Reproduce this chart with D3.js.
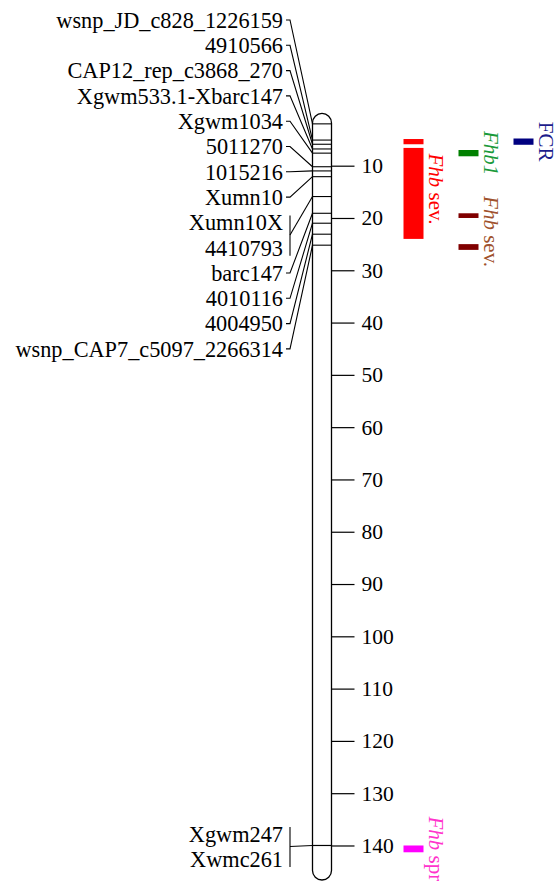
<!DOCTYPE html>
<html>
<head>
<meta charset="utf-8">
<script src="https://cdn.jsdelivr.net/npm/d3@7"></script>
<style>
  html, body { margin: 0; padding: 0; background: #fff; }
  text { font-family: "Liberation Serif", "Times New Roman", serif; }
</style>
</head>
<body>
<div id="chart"></div>
<script>
// markers on the linkage group (cM)
const markerNames = ['wsnp_JD_c828_1226159', '4910566', 'CAP12_rep_c3868_270', 'Xgwm533.1-Xbarc147',
  'Xgwm1034', '5011270', '1015216', 'Xumn10', 'Xumn10X', '4410793', 'barc147', '4010116',
  '4004950', 'wsnp_CAP7_c5097_2266314', 'Xgwm247', 'Xwmc261'];
const markerCM = [2.0, 5.1, 5.9, 6.8, 7.6, 10.2, 11.0, 12.1, 15.9, 15.9, 19.1, 21.0, 23.1, 25.2, 140.0, 140.0];

// axis ticks
const tickValues = [10, 20, 30, 40, 50, 60, 70, 80, 90, 100, 110, 120, 130, 140];
const chromLength = 146.6;

// QTL intervals
const qtlTrait = ['Fhb sev.', 'Fhb sev.', 'Fhb1', 'Fhb sev.', 'Fhb sev.', 'FCR', 'Fhb spr'];
const qtlLane = ['I', 'I', 'II', 'II', 'II', 'III', 'I'];
const qtlGroup = ['a', 'a', 'b', 'c', 'c', 'd', 'e'];
const qtlStart = [4.9, 6.6, 7.0, 19.1, 25.0, 4.8, 140.0];
const qtlEnd = [5.9, 24.0, 8.2, 20.0, 26.1, 6.0, 141.3];
const groupBarColor = { a: '#ff0000', b: '#008000', c: '#800000', d: '#000080', e: '#ff00ff' };
const groupTextColor = { a: '#ff0000', b: '#1a9a3a', c: '#a0522d', d: '#1c1c8c', e: '#ff33cc' };

const width = 556, height = 881;
const chromX = 312.5, chromW = 19;

const svg = d3.select('#chart').append('svg')
  .attr('width', width)
  .attr('height', height);

const y = d3.scaleLinear().domain([0, chromLength]).range([113.4, 880]);

// chromosome body
svg.append('rect')
  .attr('x', chromX).attr('y', y(0))
  .attr('width', chromW).attr('height', y(chromLength) - y(0))
  .attr('rx', chromW / 2).attr('ry', chromW / 2)
  .attr('fill', '#fff').attr('stroke', '#000').attr('stroke-width', 1.3);

const markers = markerNames.map((name, i) => ({ name: name, cM: markerCM[i], index: i }));

// marker bars inside chromosome
const positions = Array.from(new Set(markerCM));
svg.selectAll('.mline').data(positions).enter().append('line')
  .attr('class', 'mline')
  .attr('x1', chromX).attr('x2', chromX + chromW)
  .attr('y1', d => y(d)).attr('y2', d => y(d))
  .attr('stroke', '#000').attr('stroke-width', 1.1);

// label layout: top cluster stacked from the top, distal pair centred on its marker
const topCount = markers.filter(d => d.cM < 100).length;
markers.forEach(d => {
  if (d.cM < 100) {
    d.ly = 20 + d.index * 25.3;
  } else {
    const j = d.index - topCount;
    d.ly = y(d.cM) - 11.5 + j * 25;
  }
});

svg.selectAll('.mlabel').data(markers).enter().append('text')
  .attr('class', 'mlabel')
  .attr('x', 283)
  .attr('y', d => d.ly)
  .attr('dy', '0.35em')
  .attr('text-anchor', 'end')
  .style('font-size', '22.3px')
  .attr('fill', '#000')
  .text(d => d.name);

// connectors
const groups = d3.groups(markers, d => d.cM);
const conn = svg.append('g').attr('stroke', '#000').attr('stroke-width', 1.1).attr('fill', 'none');
groups.forEach(([cM, items]) => {
  if (items.length === 1) {
    const d = items[0];
    conn.append('path')
      .attr('d', `M286,${d.ly}H290L${chromX},${y(cM)}`);
  } else {
    const first = items[0].ly, last = items[items.length - 1].ly;
    const mid = (first + last) / 2;
    conn.append('line')
      .attr('x1', 290).attr('x2', 290)
      .attr('y1', first - 7).attr('y2', last + 8);
    conn.append('line')
      .attr('x1', 290).attr('y1', mid)
      .attr('x2', chromX).attr('y2', y(cM));
  }
});

// distal marker line runs across the chromosome
svg.selectAll('.cross').data(groups.filter(g => g[0] > 100)).enter().append('line')
  .attr('x1', chromX).attr('x2', chromX + chromW)
  .attr('y1', d => y(d[0])).attr('y2', d => y(d[0]))
  .attr('stroke', '#000').attr('stroke-width', 1.1);

// cM axis
const axis = svg.append('g')
  .attr('transform', `translate(${chromX + chromW},0)`)
  .call(d3.axisRight(y).tickValues(tickValues).tickSize(23).tickPadding(7));
axis.select('.domain').remove();
axis.selectAll('line').attr('stroke', '#000').attr('stroke-width', 1.2);
axis.selectAll('text')
  .style('font-family', '"Liberation Serif", "Times New Roman", serif')
  .style('font-size', '21.5px')
  .attr('fill', '#000');

// QTL bars
const qtls = qtlTrait.map((t, i) => ({
  trait: t, lane: qtlLane[i], group: qtlGroup[i], start: qtlStart[i], end: qtlEnd[i]
}));
const laneX = d3.scalePoint().domain(['I', 'II', 'III']).range([403.5, 513.5]);
const barW = 20;

svg.selectAll('.qtl').data(qtls).enter().append('rect')
  .attr('class', 'qtl')
  .attr('x', d => laneX(d.lane))
  .attr('y', d => y(d.start))
  .attr('width', barW)
  .attr('height', d => y(d.end) - y(d.start))
  .attr('fill', d => groupBarColor[d.group]);

// QTL labels, rotated, centred on each group
const labelGroups = d3.groups(qtls, d => d.group).map(([g, items]) => ({
  group: g,
  trait: items[0].trait,
  lane: items[0].lane,
  mid: (y(d3.min(items, d => d.start)) + y(d3.max(items, d => d.end))) / 2
}));

const qlabels = svg.selectAll('.qlabel').data(labelGroups).enter().append('text')
  .attr('class', 'qlabel')
  .attr('transform', d => `translate(${laneX(d.lane) + barW + 5},${d.mid}) rotate(90)`)
  .attr('text-anchor', 'middle')
  .style('font-size', '21px')
  .attr('fill', d => groupTextColor[d.group]);

qlabels.each(function(d) {
  const t = d3.select(this);
  if (d.trait.startsWith('Fhb')) {
    const rest = d.trait.slice(3);
    if (rest.trim().length && !/^\d/.test(rest)) {
      t.append('tspan').attr('font-style', 'italic').text('Fhb');
      t.append('tspan').text(rest);
    } else {
      t.append('tspan').attr('font-style', 'italic').text(d.trait);
    }
  } else {
    t.text(d.trait);
  }
});
</script>
</body>
</html>
